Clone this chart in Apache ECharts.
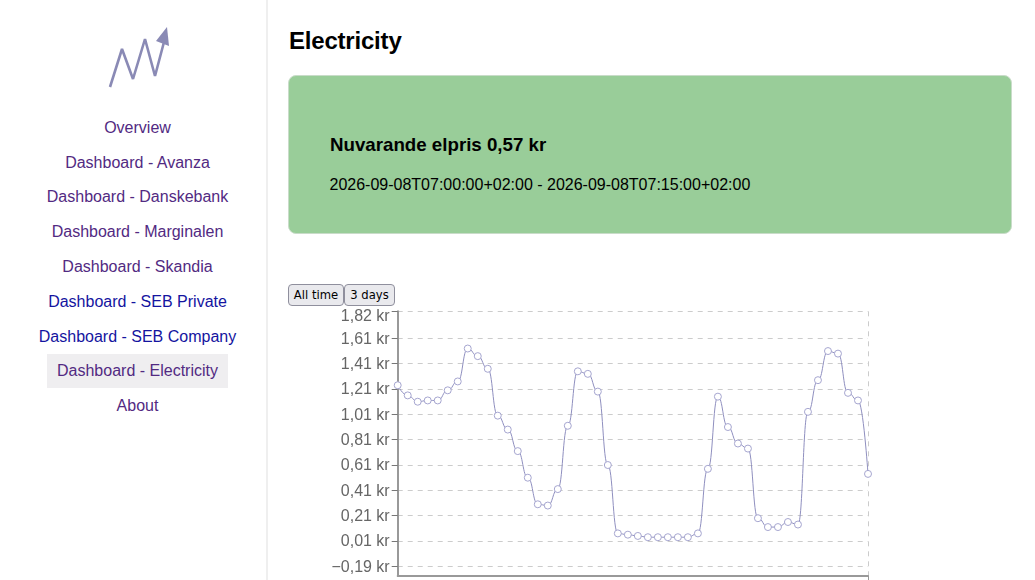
<!DOCTYPE html>
<meta charset="utf-8">
<title>Electricity</title>
<style>
html, body { margin: 0; height: 100%; overflow: hidden; background: #fff; }
body { font: 16px "Liberation Sans", Arial, sans-serif; color: #000; }
#side { position: absolute; left: 0; top: 0; width: 266px; height: 580px; border-right: 2px solid #efefef; }
#side svg { position: absolute; left: 100px; top: 20px; }
#side a { position: absolute; left: 0; width: 275px; text-align: center; line-height: 34px; height: 34px; color: #522a82; text-decoration: none; }
#side a span { display: inline-block; padding: 0 10px; }
#side a.fresh { color: #1414a0; }
#side a.active span { background: #efeef0; }
h1 { position: absolute; left: 289px; top: 27px; margin: 0; font-size: 24px; line-height: 28px; letter-spacing: -0.2px; }
#card { position: absolute; left: 288px; top: 75px; width: 722px; height: 157px; background: #99cd99; border: 1px solid #c9dcc9; border-radius: 8px; }
#card b { position: absolute; left: 41px; top: 58px; font-size: 18.72px; line-height: 22px; }
#card span { position: absolute; left: 40.5px; top: 99px; line-height: 20px; }
.btn { position: absolute; top: 284px; height: 22px; box-sizing: border-box; padding: 0; text-align: center; font: 11.6px "DejaVu Sans", sans-serif; background: #e9e9ed; border: 1px solid #8f8f9d; border-radius: 4px; color: #000; }
#main { position: absolute; left: 289px; top: 306px; width: 640px; height: 274px; }
</style>
<body>
<div id="side">
  <svg width="80" height="75" viewBox="100 20 80 75">
    <polyline points="110,87 122,49 133,79 145,39 155,76 164,42" fill="none" stroke="#8a8ab5" stroke-width="2.6" stroke-linejoin="bevel"/>
    <polygon points="167,27 169,46 156,41" fill="#8a8ab5"/>
  </svg>
  <a style="top:111px">Overview</a>
  <a style="top:146px">Dashboard - Avanza</a>
  <a style="top:180px">Dashboard - Danskebank</a>
  <a style="top:215px">Dashboard - Marginalen</a>
  <a style="top:250px">Dashboard - Skandia</a>
  <a class="fresh" style="top:285px">Dashboard - SEB Private</a>
  <a class="fresh" style="top:320px">Dashboard - SEB Company</a>
  <a class="active" style="top:354px"><span>Dashboard - Electricity</span></a>
  <a style="top:389px">About</a>
</div>
<h1>Electricity</h1>
<div id="card">
  <b>Nuvarande elpris 0,57 kr</b>
  <span>2026-09-08T07:00:00+02:00 - 2026-09-08T07:15:00+02:00</span>
</div>
<button class="btn" style="left:288px;width:56px">All time</button>
<button class="btn" style="left:344px;width:51px">3 days</button>
<div id="main"></div>

<script src="https://cdn.jsdelivr.net/npm/echarts@6/dist/echarts.min.js"></script>
<script>
var hours = [];
for (var h = 0; h < 48; h++) hours.push(String(h));
var prices = [1.24, 1.16, 1.11, 1.12, 1.12, 1.20, 1.27, 1.53, 1.47, 1.37,
              1.00, 0.89, 0.72, 0.51, 0.30, 0.29, 0.42, 0.92, 1.35, 1.33,
              1.19, 0.61, 0.07, 0.06, 0.05, 0.04, 0.04, 0.04, 0.04, 0.04,
              0.07, 0.58, 1.15, 0.91, 0.78, 0.74, 0.19, 0.12, 0.12, 0.16,
              0.14, 1.03, 1.28, 1.51, 1.49, 1.18, 1.12, 0.54];
var yMin = -0.264, yMax = 1.824;
var yTicks = [-0.19, 0.01, 0.21, 0.41, 0.61, 0.81, 1.01, 1.21, 1.41, 1.61, yMax];

function kr(v) {
  var s = v.toFixed(2).replace('.', ',').replace('-', '\u2212') + ' kr';
  // top label sits a little below its tick in the original
  return v === yMax ? '{top|' + s + '}' : s;
}

var myChart = echarts.init(document.getElementById('main'));
myChart.setOption({
  animation: false,
  grid: { left: 108.7, right: 61, top: 5.3, bottom: 4.3 },
  xAxis: {
    type: 'category',
    boundaryGap: false,
    data: hours,
    axisLine: { onZero: false, lineStyle: { color: '#999', width: 2 } },
    axisTick: { show: true, length: 6, interval: function (i) { return i === 47; }, lineStyle: { color: '#999' } },
    axisLabel: { show: false },
    splitLine: { show: true, interval: function (i) { return i === 47; }, lineStyle: { color: '#ccc', type: [5, 5] } }
  },
  yAxis: {
    type: 'value',
    min: yMin,
    max: yMax,
    axisLine: { show: true, lineStyle: { color: '#999', width: 2 } },
    axisTick: { show: true, length: 6, customValues: yTicks, lineStyle: { color: '#777' } },
    axisLabel: {
      customValues: yTicks,
      margin: 8,
      color: '#666',
      fontSize: 16,
      fontFamily: 'Liberation Sans',
      padding: [2, 0, 0, 0],
      formatter: kr,
      rich: { top: { color: '#666', fontSize: 16, fontFamily: 'Liberation Sans', padding: [9, 0, 0, 0] } }
    },
    splitLine: { show: true, lineStyle: { color: '#ccc', type: [5, 5] } }
  },
  series: [{
    type: 'line',
    data: prices,
    smooth: 0.5,
    smoothMonotone: 'x',
    showSymbol: true,
    showAllSymbol: true,
    symbol: 'circle',
    symbolSize: 7,
    lineStyle: { color: '#8f8fbf', width: 1 },
    itemStyle: { color: '#fff', borderColor: '#a5a5cf', borderWidth: 1 }
  }]
});
</script>
</body>
